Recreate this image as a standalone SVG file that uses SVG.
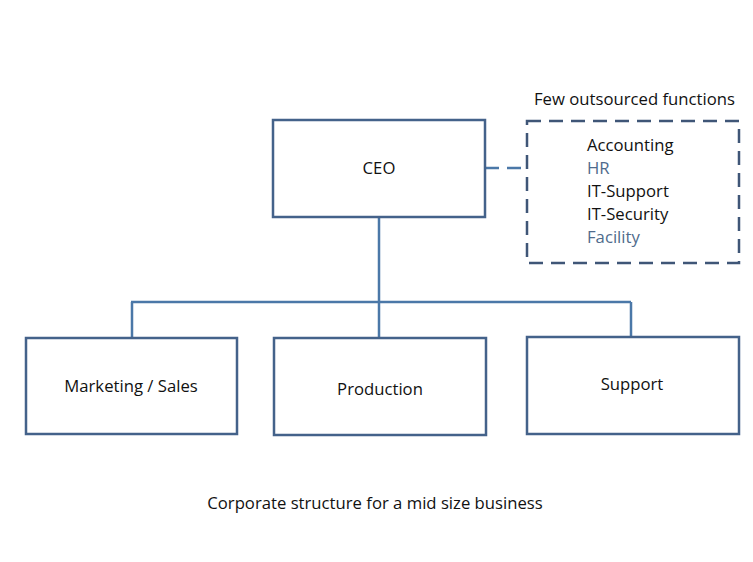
<svg xmlns="http://www.w3.org/2000/svg" width="753" height="562" viewBox="0 0 753 562">
<style>
.box{fill:#fff;stroke:#44628a;stroke-width:2.5}
.dash{fill:none;stroke:#3f5677;stroke-width:2.5;stroke-dasharray:14 8}
.ln{fill:none;stroke:#4b78a8;stroke-width:2.5}
.dl{fill:none;stroke:#4b78a8;stroke-width:2.5;stroke-dasharray:14 8}
text{font-family:"Open Sans","Liberation Sans",sans-serif;font-size:16.7px;fill:#111}
.c{text-anchor:middle}
.blue{fill:#4f6b8c}
</style>
<rect width="753" height="562" fill="#fff"/>
<g id="connectors">
<path class="ln" d="M379,217 V302 M131,302 H631 M132,302 V338 M379,302 V338 M631,302 V337"/>
<path class="dl" d="M485,168 H527"/>
</g>
<g id="ceo"><rect class="box" x="273" y="120" width="212" height="97"/><text class="c" x="379" y="174">CEO</text></g>
<g id="outsourced">
<rect class="dash" x="527" y="121" width="212" height="142"/>
<text x="534" y="105">Few outsourced functions</text>
<text x="587" y="151">Accounting</text>
<text class="blue" x="587" y="174">HR</text>
<text x="587" y="197">IT-Support</text>
<text x="587" y="220">IT-Security</text>
<text class="blue" x="587" y="243">Facility</text>
</g>
<g id="marketing"><rect class="box" x="26" y="338" width="211" height="96"/><text class="c" x="131" y="392">Marketing / Sales</text></g>
<g id="production"><rect class="box" x="274" y="338" width="212" height="97"/><text class="c" x="380" y="395">Production</text></g>
<g id="support"><rect class="box" x="527" y="337" width="212" height="97"/><text class="c" x="632" y="390">Support</text></g>
<text class="c" x="375" y="509">Corporate structure for a mid size business</text>
</svg>
